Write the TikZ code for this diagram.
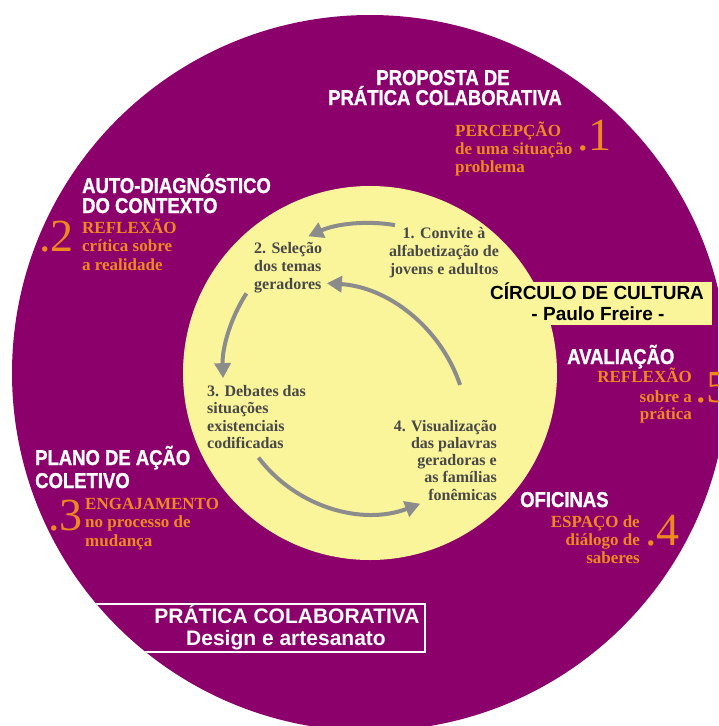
\documentclass[tikz,border=0pt]{standalone}
\usepackage{fontspec}
\setmainfont{Liberation Serif}
\newfontfamily\headfont{Liberation Sans Bold}[FakeStretch=0.86, FakeBold=1.2]
\newfontfamily\boxfont{Liberation Sans}
\usetikzlibrary{arrows.meta}
\definecolor{purp}{RGB}{139,0,106}
\definecolor{yel}{RGB}{250,245,155}
\definecolor{orng}{RGB}{238,137,34}
\definecolor{darktxt}{RGB}{72,72,72}
\definecolor{arrgray}{RGB}{140,140,140}
\begin{document}
\begin{tikzpicture}[x=1pt,y=-1pt,
  head/.style={inner sep=0pt, text=white, font=\headfont\fontsize{21.5}{22}\selectfont},
  ora/.style={inner sep=0pt, text=orng, font=\bfseries\fontsize{17}{18}\selectfont},
  num/.style={inner sep=0pt, text=orng, font=\fontsize{46}{46}\selectfont},
  dark/.style={inner sep=0pt, text=darktxt, font=\bfseries\fontsize{16}{18}\selectfont},
  boxt/.style={inner sep=0pt, font=\boxfont\bfseries\fontsize{19}{20}\selectfont},
  boxw/.style={inner sep=0pt, text=white, font=\boxfont\bfseries\fontsize{21}{22}\selectfont},
  cyc/.style={draw=arrgray, line width=4pt, -{Triangle[length=15pt,width=16pt]}}]
\useasboundingbox (0,0) rectangle (718,726);
\begin{scope}
  \clip (0,0) rectangle (718,726);
  \fill[purp] (370,373) circle[radius=358];
\end{scope}
\fill[yel] (370,373) circle[radius=187];
\coordinate (c) at (370,373);
\coordinate (c2) at (318,433);

% boxes
\node[fill=yel, minimum width=229pt, minimum height=43pt, anchor=north west, inner sep=0pt] (box1) at (483,282) {};
\node[boxt, anchor=base] (b1a) at (597,299) {CÍRCULO DE CULTURA};
\node[boxt, anchor=base] (b1b) at (598,320) {- Paulo Freire -};

\begin{scope}
  \clip (370,373) circle[radius=358];
  \node[draw=white, line width=1.5pt, minimum width=354pt, minimum height=48pt, anchor=north west, inner sep=0pt] (box2) at (70,603) {};
\end{scope}
\node[boxw, anchor=base] (b2a) at (287,623) {PRÁTICA COLABORATIVA};
\node[boxw, anchor=base] (b2b) at (286,645) {Design e artesanato};

% headings
\node[head, anchor=base] (h1a) at (443,85) {PROPOSTA DE};
\node[head, anchor=base] (h1b) at (445,105) {PRÁTICA COLABORATIVA};
\node[head, anchor=base west] (h2a) at (82,193) {AUTO-DIAGNÓSTICO};
\node[head, anchor=base west] (h2b) at (82,213) {DO CONTEXTO};
\node[head, anchor=base west] (h3a) at (35,465) {PLANO DE AÇÃO};
\node[head, anchor=base west] (h3b) at (35,488) {COLETIVO};
\node[head, anchor=base west] (h4) at (520,507) {OFICINAS};
\node[head, anchor=base west] (h5) at (567,364) {AVALIAÇÃO};

% orange texts
\node[ora, anchor=base west] (o1a) at (455,136) {PERCEPÇÃO};
\node[ora, anchor=base west] (o1b) at (455,154) {de uma situação};
\node[ora, anchor=base west] (o1c) at (455,172) {problema};
\node[num, anchor=base west] (n1) at (577,150) {.1};

\node[ora, anchor=base west] (o2a) at (82,233) {REFLEXÃO};
\node[ora, anchor=base west] (o2b) at (82,251) {crítica sobre};
\node[ora, anchor=base west] (o2c) at (82,270) {a realidade};
\node[num, anchor=base west] (n2) at (39,251) {.2};

\node[ora, anchor=base west] (o3a) at (85,509) {ENGAJAMENTO};
\node[ora, anchor=base west] (o3b) at (85,527) {no processo de};
\node[ora, anchor=base west] (o3c) at (85,546) {mudança};
\node[num, anchor=base west] (n3) at (48,530) {.3};

\node[ora, anchor=base east] (o4a) at (640,527) {ESPAÇO de};
\node[ora, anchor=base east] (o4b) at (640,545) {diálogo de};
\node[ora, anchor=base east] (o4c) at (640,563) {saberes};
\node[num, anchor=base west] (n4) at (645,545) {.4};

\node[ora, anchor=base east] (o5a) at (692,382) {REFLEXÃO};
\node[ora, anchor=base east] (o5b) at (692,402) {sobre a};
\node[ora, anchor=base east] (o5c) at (692,419) {prática};
\node[num, anchor=base west] (n5) at (695,402) {.5};

% cycle texts
\node[dark, anchor=base] (t1a) at (444,238) {1. Convite à};
\node[dark, anchor=base] (t1b) at (444,256) {alfabetização de};
\node[dark, anchor=base] (t1c) at (444,274) {jovens e adultos};

\node[dark, anchor=base west] (t2a) at (254,253) {2. Seleção};
\node[dark, anchor=base west] (t2b) at (254,271) {dos temas};
\node[dark, anchor=base west] (t2c) at (254,289) {geradores};

\node[dark, anchor=base west] (t3a) at (207,396) {3. Debates das};
\node[dark, anchor=base west] (t3b) at (207,413) {situações};
\node[dark, anchor=base west] (t3c) at (207,431) {existenciais};
\node[dark, anchor=base west] (t3d) at (207,448) {codificadas};

\node[dark, anchor=base east] (t4a) at (497,431) {4. Visualização};
\node[dark, anchor=base east] (t4b) at (497,448) {das palavras};
\node[dark, anchor=base east] (t4c) at (497,465) {geradoras e};
\node[dark, anchor=base east] (t4d) at (497,482) {as famílias};
\node[dark, anchor=base east] (t4e) at (497,500) {fonêmicas};

% cycle arrows
\coordinate (a1s) at ([shift={(-80.4:150)}]c);
\coordinate (a2s) at ([shift={(-18.7:150)}]c2);
\coordinate (a3s) at ([shift={(212.8:147)}]c);
\coordinate (a4s) at ([shift={(142.8:140)}]c);
\draw[cyc] (a1s) arc[start angle=-80.4, end angle=-114.3, radius=150];
\draw[cyc] (a2s) arc[start angle=-18.7, end angle=-86.6, radius=150];
\draw[cyc] (a3s) arc[start angle=212.8, end angle=178, radius=147];
\draw[cyc] (a4s) arc[start angle=142.8, end angle=69, radius=140];
\end{tikzpicture}
\end{document}
